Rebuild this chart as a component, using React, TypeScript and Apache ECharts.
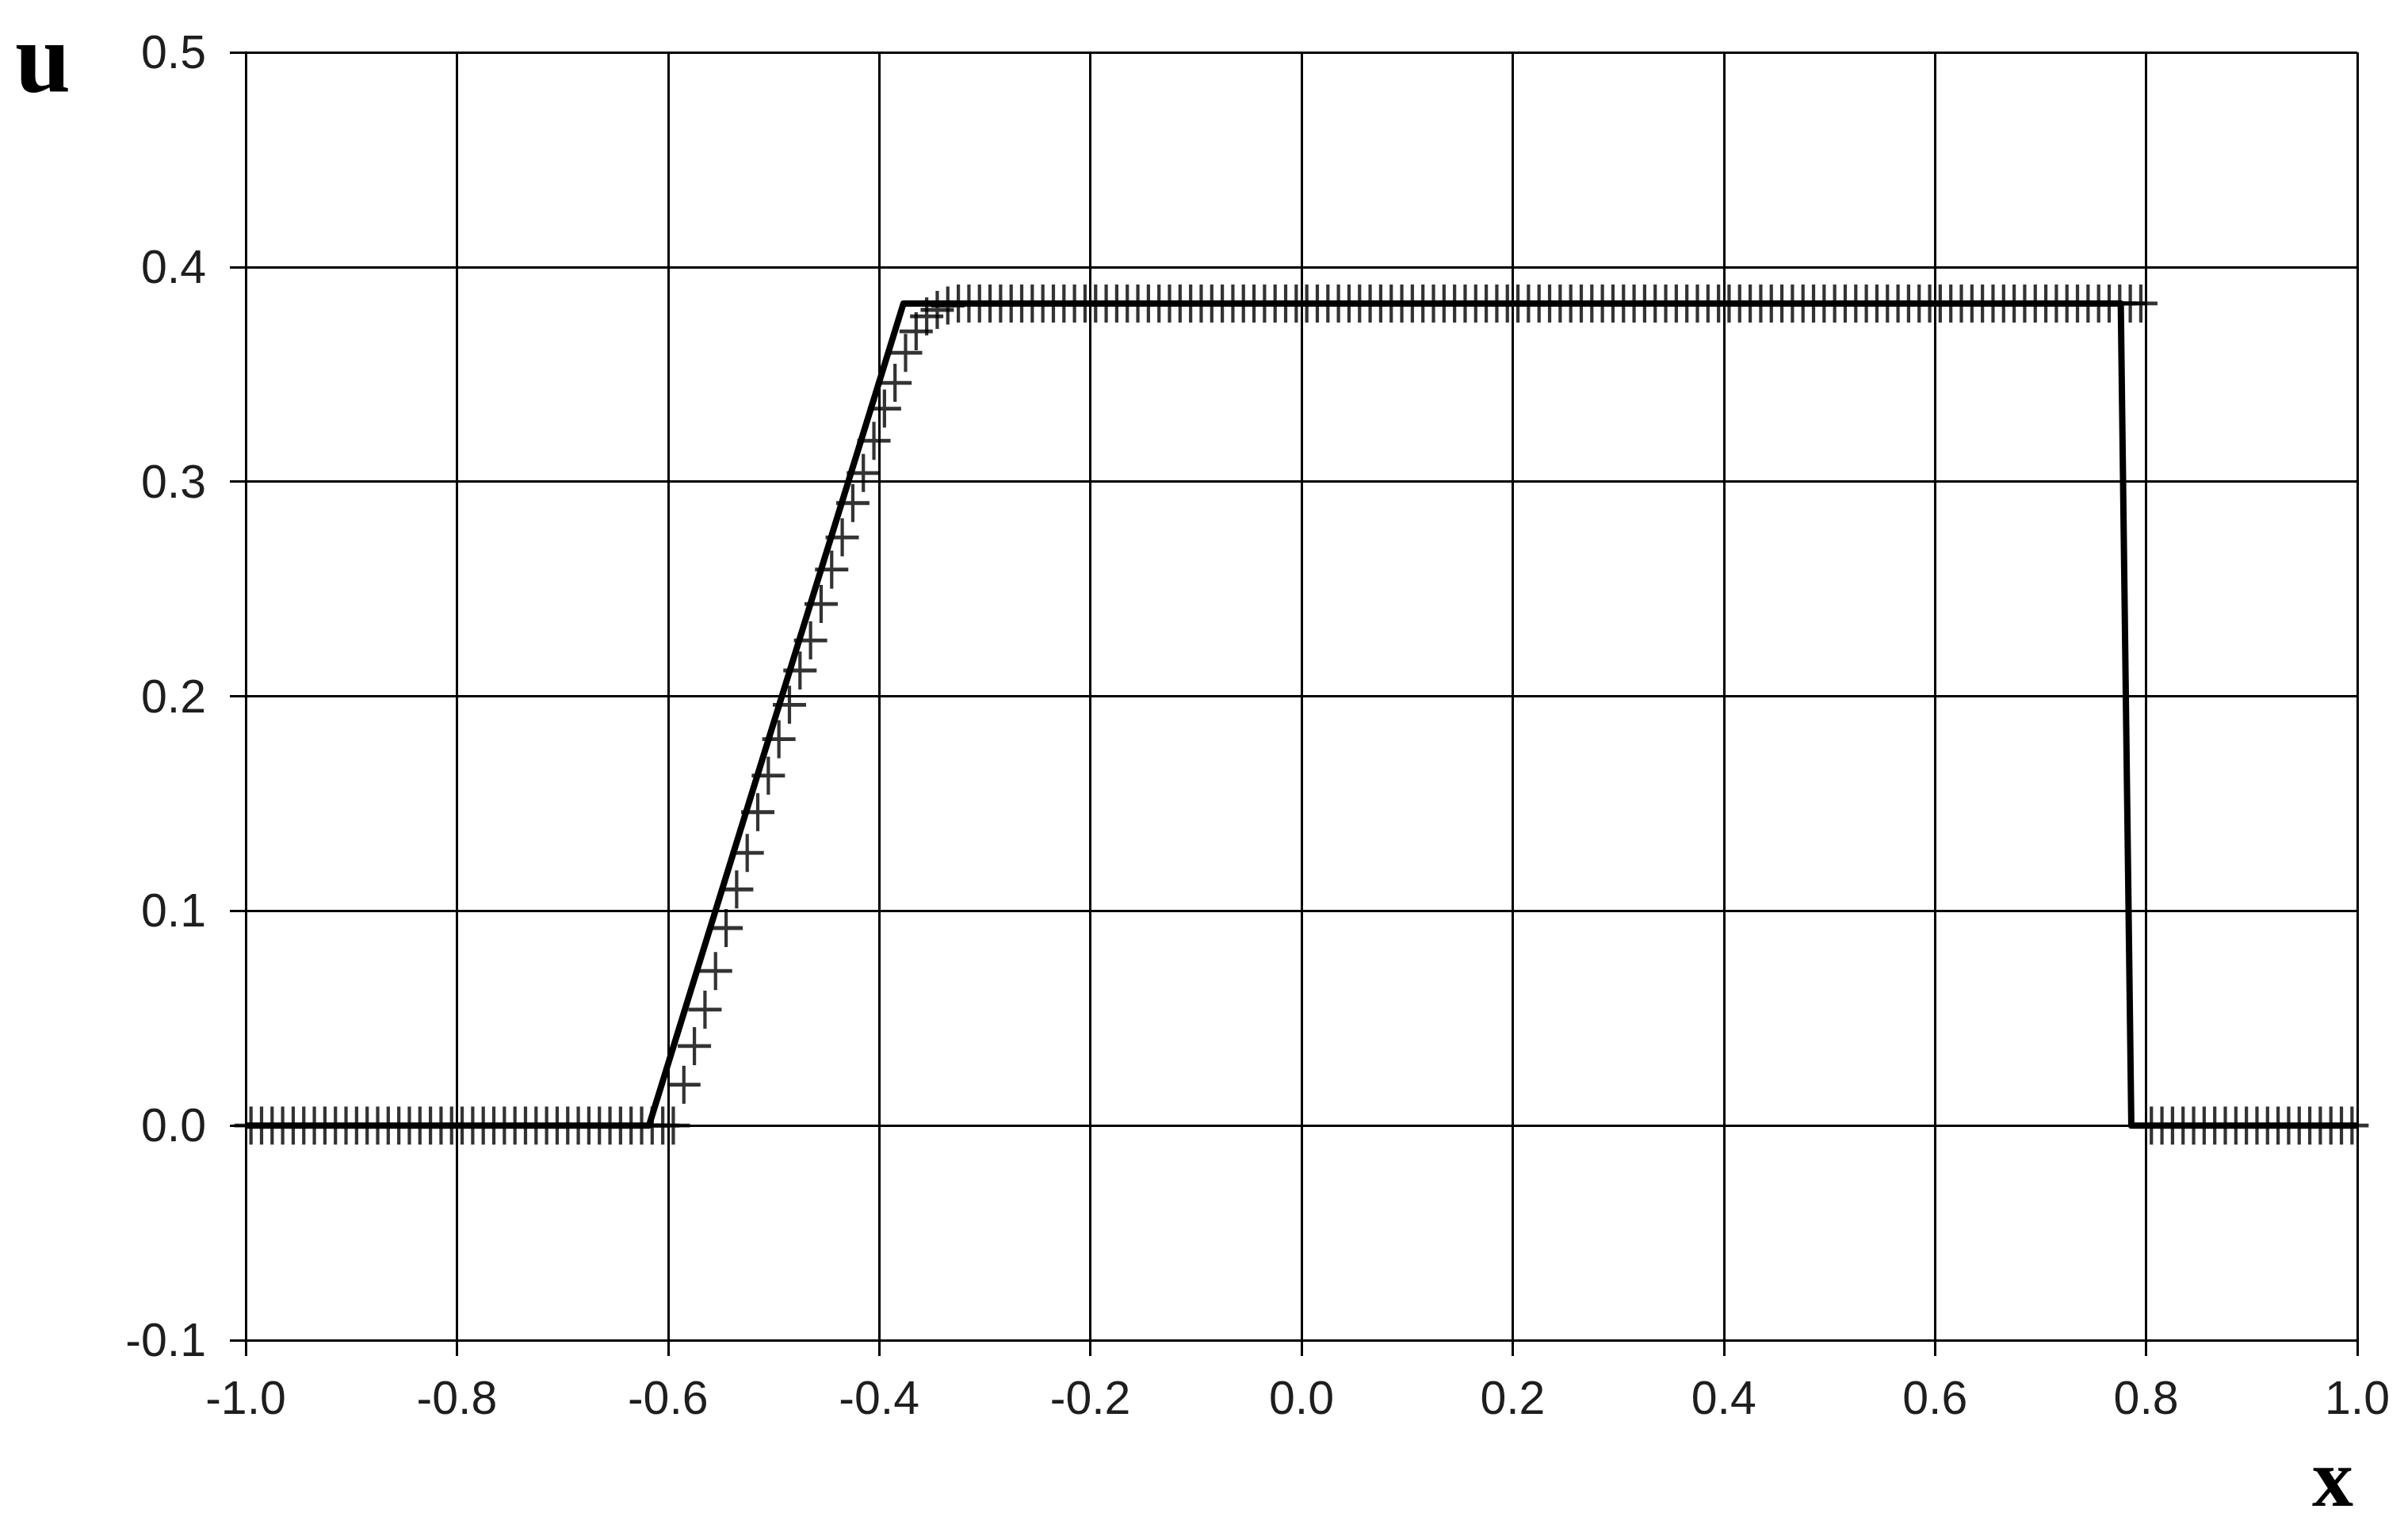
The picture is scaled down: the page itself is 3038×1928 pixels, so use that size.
import { useEffect, useRef } from "react";
import * as echarts from "echarts";

// Axis ranges / tick steps
const X_MIN = -1.0;
const X_MAX = 1.0;
const X_STEP = 0.2;
const Y_MIN = -0.1;
const Y_MAX = 0.5;
const Y_STEP = 0.1;

// Exact solution (solid line) breakpoints
const exactX = [-1.0, -0.618, -0.377, 0.776, 0.786, 1.0];
const exactU = [0.0, 0.0, 0.383, 0.383, 0.0, 0.0];

// Numerical solution (+ markers): 200 cells on [-1, 1]
const cellCount = 200;
const uLeftState = 0.0;
const uPlateau = 0.383;
const uRightState = 0.0;
const shockLastPlateauX = 0.795; // last cell still on the plateau
// Cells inside the rarefaction fan, read one by one
const rampX = [
  -0.585, -0.575, -0.565, -0.555, -0.545, -0.535, -0.525, -0.515, -0.505,
  -0.495, -0.485, -0.475, -0.465, -0.455, -0.445, -0.435, -0.425, -0.415,
  -0.405, -0.395, -0.385, -0.375, -0.365, -0.355, -0.345, -0.335,
];
const rampU = [
  0.019, 0.037, 0.054, 0.072, 0.092, 0.110, 0.127, 0.146, 0.163,
  0.180, 0.196, 0.212, 0.226, 0.243, 0.259, 0.274, 0.290, 0.304,
  0.319, 0.334, 0.346, 0.360, 0.370, 0.377, 0.380, 0.382,
];

function buildNumeric(): number[][] {
  const out: number[][] = [];
  const h = (X_MAX - X_MIN) / cellCount;
  for (let i = 0; i < cellCount; i++) {
    const x = +(X_MIN + h * (i + 0.5)).toFixed(4);
    let u: number;
    const k = rampX.findIndex((r) => Math.abs(r - x) < 1e-6);
    if (k >= 0) u = rampU[k];
    else if (x < rampX[0]) u = uLeftState;
    else if (x <= shockLastPlateauX + 1e-9) u = uPlateau;
    else u = uRightState;
    out.push([x, u]);
  }
  return out;
}

const fmt = (v: number) => (Math.abs(v) < 1e-9 ? 0 : v).toFixed(1);

export default function App() {
  const ref = useRef<HTMLDivElement>(null);

  useEffect(() => {
    if (!ref.current) return;
    const chart = echarts.init(ref.current, undefined, { renderer: "svg" });
    const black = "#000";
    const labelColor = "#1e1e1e";
    const sans = '"Liberation Sans", Arial, sans-serif';
    const serif = '"Liberation Serif", "Times New Roman", serif';

    const exactData = exactX.map((x, i) => [x, exactU[i]]);
    const numData = buildNumeric();

    chart.setOption({
      animation: false,
      backgroundColor: "#fff",
      grid: { left: 310, right: 64, top: 66, bottom: 237 },
      xAxis: {
        type: "value",
        min: X_MIN,
        max: X_MAX,
        interval: X_STEP,
        axisLine: { show: true, onZero: false, lineStyle: { color: black, width: 3 } },
        axisTick: { show: true, inside: false, length: 20, lineStyle: { color: black, width: 3 } },
        splitLine: { show: true, lineStyle: { color: black, width: 3 } },
        axisLabel: {
          formatter: fmt,
          color: labelColor,
          fontSize: 59,
          fontFamily: sans,
          margin: 43,
        },
      },
      yAxis: {
        type: "value",
        min: Y_MIN,
        max: Y_MAX,
        interval: Y_STEP,
        axisLine: { show: true, onZero: false, lineStyle: { color: black, width: 3 } },
        axisTick: { show: true, inside: false, length: 20, lineStyle: { color: black, width: 3 } },
        splitLine: { show: true, lineStyle: { color: black, width: 3 } },
        axisLabel: {
          formatter: fmt,
          color: labelColor,
          fontSize: 59,
          fontFamily: sans,
          margin: 50,
        },
      },
      graphic: [
        {
          type: "text",
          x: 54,
          y: 72,
          style: {
            text: "u",
            fill: black,
            fontSize: 126,
            lineHeight: 100,
            fontWeight: "bold",
            fontFamily: serif,
            align: "center",
            verticalAlign: "middle",
          },
        },
        {
          type: "text",
          x: 2943,
          y: 1864,
          style: {
            text: "x",
            fill: black,
            fontSize: 104,
            lineHeight: 100,
            fontWeight: "bold",
            fontFamily: serif,
            align: "center",
            verticalAlign: "middle",
          },
        },
      ],
      series: [
        {
          name: "exact",
          type: "line",
          data: exactData,
          showSymbol: false,
          silent: true,
          lineStyle: { color: black, width: 8, join: "round" },
          z: 3,
        },
        {
          name: "numerical",
          type: "scatter",
          data: numData,
          symbol: "path://M5,0 L5,10 M0,5 L10,5",
          symbolSize: [42, 48],
          silent: true,
          itemStyle: { color: "transparent", borderColor: black, borderWidth: 4.5 },
          z: 4,
        },
      ],
    });

    return () => chart.dispose();
  }, []);

  return (
    <div
      ref={ref}
      style={{ position: "fixed", left: 0, top: 0, width: 3038, height: 1928, background: "#fff" }}
    />
  );
}
